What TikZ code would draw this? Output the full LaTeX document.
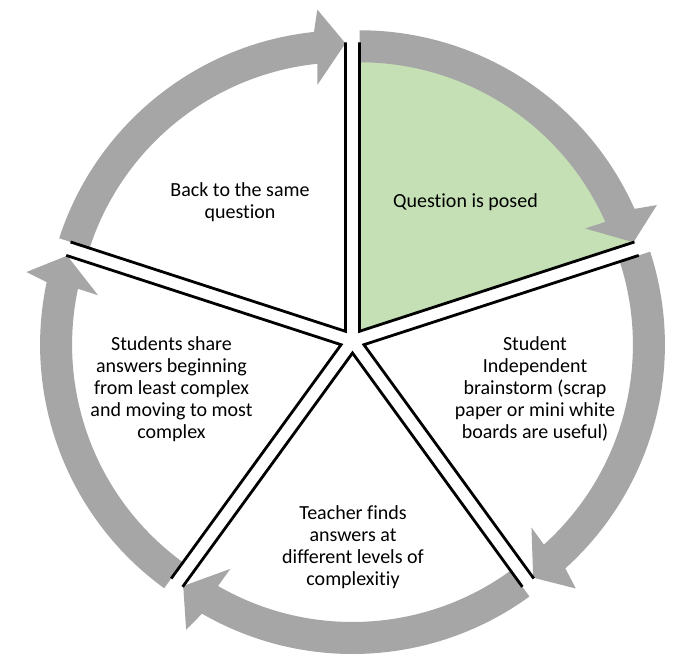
\documentclass[tikz,border=0pt]{standalone}
\usepackage{fontspec}
\setmainfont{Carlito}[Ligatures=CommonOff]
\begin{document}
\begin{tikzpicture}[x=1pt, y=1pt,
	txt/.style={align=center, font=\fontsize{20}{22}\selectfont}]
			\definecolor{arrowg}{RGB}{166,166,166}
				\definecolor{posedg}{RGB}{197,224,180}
				\useasboundingbox (-352.5,-328) rectangle (330.5,341);
				
				\foreach \s/\col in {90/posedg,18/white,-54/white,-126/white,162/white}{
						\pgfmathsetmacro{\e}{\s-72}
						\pgfmathsetmacro{\m}{\s-36}
						\begin{scope}[shift={(\m:12)}]
							\fill[\col] (0,0)--(\s:289) arc (\s:\e:289)--cycle;
							\fill[arrowg] (\s:301) arc (\s:\e+6:301)--(\e+5:323)--(\e:288)--(\e+6.5:248)--(\e+6:269) arc (\e+6:\s:269)--cycle;
							\draw[line width=2.8pt, line join=miter] (\e:289)--(0,0)--(\s:289);
						\end{scope}
					}
				
				\node[txt] (posed) at (113,139) {Question is posed};
				\node[txt] (brainstorm) at (182.5,-48) {Student\\Independent\\brainstorm (scrap\\paper or mini white\\boards are useful)};
				\node[txt] (levels) at (0.5,-206) {Teacher finds\\answers at\\different levels of\\complexitiy};
				\node[txt] (share) at (-181,-48) {Students share\\answers beginning\\from least complex\\and moving to most\\complex};
				\node[txt] (back) at (-112.5,138.5) {Back to the same\\question};
		\end{tikzpicture}
\end{document}
